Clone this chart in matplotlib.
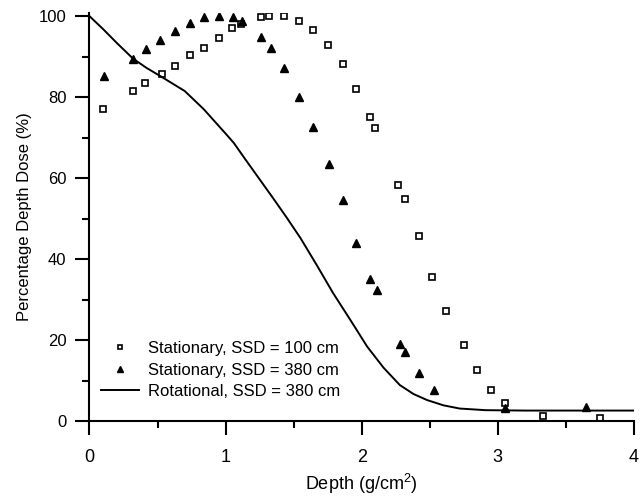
import matplotlib
matplotlib.use("Agg")
import matplotlib.pyplot as plt
from matplotlib.ticker import MultipleLocator

# Stationary, SSD = 100 cm (open squares)
depth_100 = [0.10, 0.32, 0.41, 0.53, 0.63, 0.74, 0.84, 0.95, 1.05, 1.11, 1.26, 1.32, 1.43,
             1.54, 1.64, 1.75, 1.86, 1.96, 2.06, 2.10, 2.27, 2.32, 2.42, 2.52, 2.62, 2.75,
             2.85, 2.95, 3.05, 3.33, 3.75]
pdd_100 = [77.0, 81.4, 83.4, 85.6, 87.7, 90.3, 92.2, 94.6, 97.0, 98.1, 99.8, 100.0, 100.0,
           98.9, 96.6, 92.9, 88.3, 81.9, 75.0, 72.4, 58.2, 54.8, 45.6, 35.7, 27.2, 18.7,
           12.7, 7.8, 4.4, 1.2, 0.8]

# Stationary, SSD = 380 cm (filled triangles)
depth_380 = [0.11, 0.32, 0.415, 0.52, 0.63, 0.74, 0.84, 0.95, 1.055, 1.12, 1.26, 1.33, 1.43,
             1.54, 1.645, 1.76, 1.86, 1.96, 2.06, 2.11, 2.28, 2.32, 2.42, 2.53, 3.05, 3.65]
pdd_380 = [85.1, 89.5, 91.8, 94.1, 96.4, 98.4, 99.8, 100.0, 99.8, 98.8, 94.9, 92.2, 87.2,
           80.0, 72.7, 63.5, 54.6, 44.1, 35.2, 32.3, 19.1, 17.0, 11.8, 7.6, 3.2, 3.5]

# Rotational, SSD = 380 cm (solid line)
depth_rot = [0.0, 0.1, 0.2, 0.32, 0.42, 0.53, 0.7, 0.84, 1.0, 1.06, 1.15, 1.25, 1.35, 1.45,
             1.55, 1.67, 1.79, 1.92, 2.04, 2.16, 2.28, 2.38, 2.48, 2.6, 2.72, 2.91, 3.2, 4.0]
pdd_rot = [100.0, 96.8, 93.4, 89.5, 87.2, 85.0, 81.5, 77.0, 71.0, 68.7, 64.4, 59.7, 55.0, 50.2,
           45.2, 38.5, 31.6, 24.8, 18.4, 13.2, 8.9, 6.7, 5.2, 3.9, 3.1, 2.7, 2.6, 2.6]

plt.rcParams["font.family"] = ["Liberation Sans", "DejaVu Sans"]
plt.rcParams["mathtext.fontset"] = "custom"
plt.rcParams["mathtext.rm"] = "Liberation Sans"

fig = plt.figure(figsize=(6.41, 4.96), dpi=100)
ax = fig.add_axes([0.1396, 0.151, 0.8494, 0.823])

ax.plot(depth_100, pdd_100, linestyle="none", marker="s", markersize=4.2,
        markerfacecolor="white", markeredgecolor="black", markeredgewidth=1.2,
        label="Stationary, SSD = 100 cm")
ax.plot(depth_380, pdd_380, linestyle="none", marker="^", markersize=5.5,
        color="black", label="Stationary, SSD = 380 cm")
ax.plot(depth_rot, pdd_rot, color="black", linewidth=1.4,
        label="Rotational, SSD = 380 cm")

ax.set_xlim(0, 4)
ax.set_ylim(0, 100.8)
ax.xaxis.set_major_locator(MultipleLocator(1))
ax.xaxis.set_minor_locator(MultipleLocator(0.5))
ax.yaxis.set_major_locator(MultipleLocator(20))
ax.yaxis.set_minor_locator(MultipleLocator(10))

for side in ("top", "right"):
    ax.spines[side].set_visible(False)
for side in ("left", "bottom"):
    ax.spines[side].set_linewidth(1.5)

ax.tick_params(which="major", direction="out", length=10, width=1.5, labelsize=12)
ax.tick_params(which="minor", direction="out", length=5, width=1.5)
ax.tick_params(axis="x", which="major", pad=10, labelsize=13)
ax.tick_params(axis="y", which="major", pad=6.5)

ax.set_xlabel("Depth (g/cm$^\\mathrm{2}$)", fontsize=13, labelpad=4)
ax.set_ylabel("Percentage Depth Dose (%)", fontsize=12, labelpad=5)

ax.legend(loc="center left", bbox_to_anchor=(0.009, 0.125), frameon=False, fontsize=12,
          handlelength=2.3, handletextpad=0.5, labelspacing=0.4, borderaxespad=0.0,
          markerscale=0.8)

fig.savefig("out.png", dpi=100)
